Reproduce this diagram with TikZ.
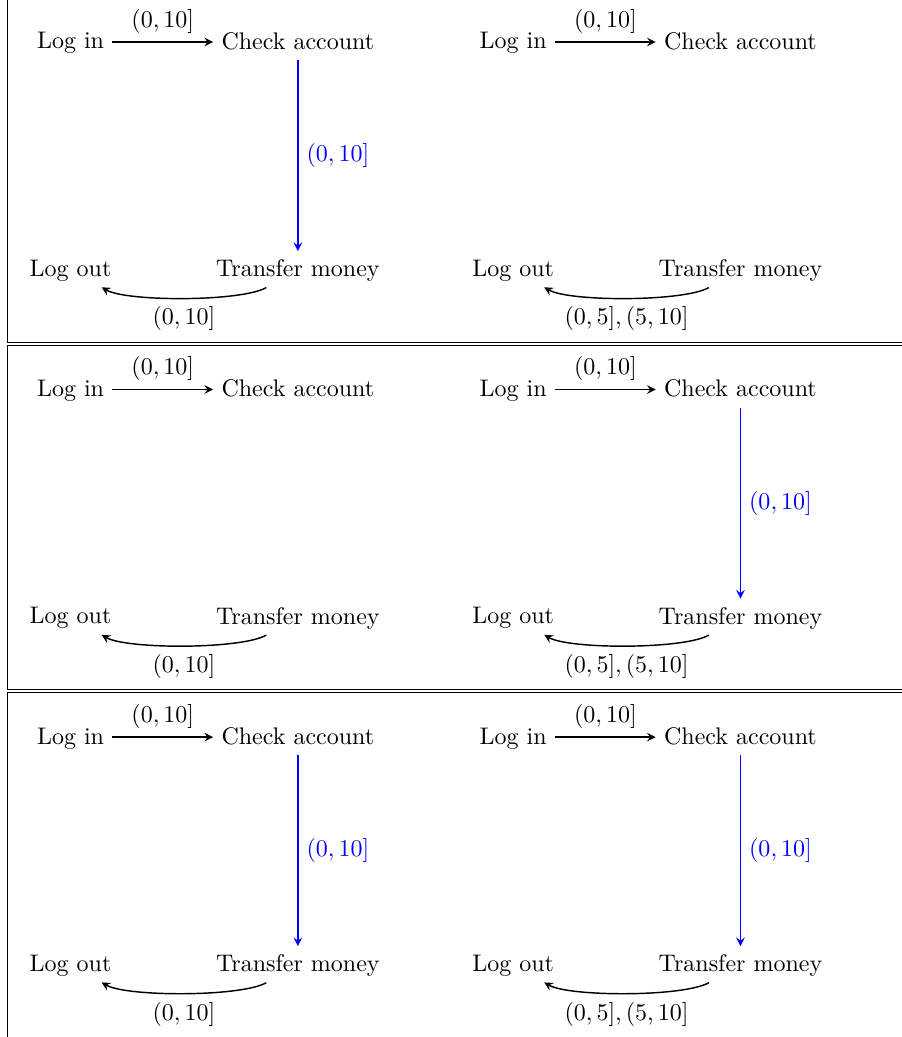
\documentclass[tikz,border=0pt]{standalone}
\usepackage{amsmath}
\usepackage{tikz}
\usetikzlibrary{arrows}

\begin{document}
\begin{tikzpicture}[>=stealth,auto,
    stage/.style={text depth=.25ex},
    flow/.style={->,semithick,blue}]
    \useasboundingbox (0,0) rectangle (13.20,-15.19);
    % frames of the three rows
    \draw (13.5,-5.01) -- (0.103,-5.01) -- (0.103,0.5);
    \draw (13.5,-5.055) -- (0.103,-5.055) -- (0.103,-10.094) -- (13.5,-10.094);
    \draw (13.5,-10.138) -- (0.103,-10.138) -- (0.103,-15.5);
    \foreach \r in {0,1,2}
      \foreach \c/\lbl in {0/{$(0,10]$},1/{$(0,5],(5,10]$}} {
        \begin{scope}[shift={({1.033+6.483*\c},{-0.615-5.091*\r})}]
          \node[stage] (login\r\c)    at (0,0)        {Log in};
          \node[stage] (check\r\c)    at (3.33,0)     {Check account};
          \node[stage] (transfer\r\c) at (3.33,-3.33) {Transfer money};
          \node[stage] (logout\r\c)   at (0,-3.33)    {Log out};
          \path[->,semithick]
            (login\r\c) edge node[above] {$(0,10]$} (check\r\c)
            (transfer\r\c) edge[bend left,looseness=0.45] node[below] {\lbl} (logout\r\c);
        \end{scope}
      }
    % the blue steps
    \foreach \p in {00,11,20,21}
      \draw[flow] (check\p) -- node[right] {$(0,10]$} (transfer\p);
\end{tikzpicture}
\end{document}
